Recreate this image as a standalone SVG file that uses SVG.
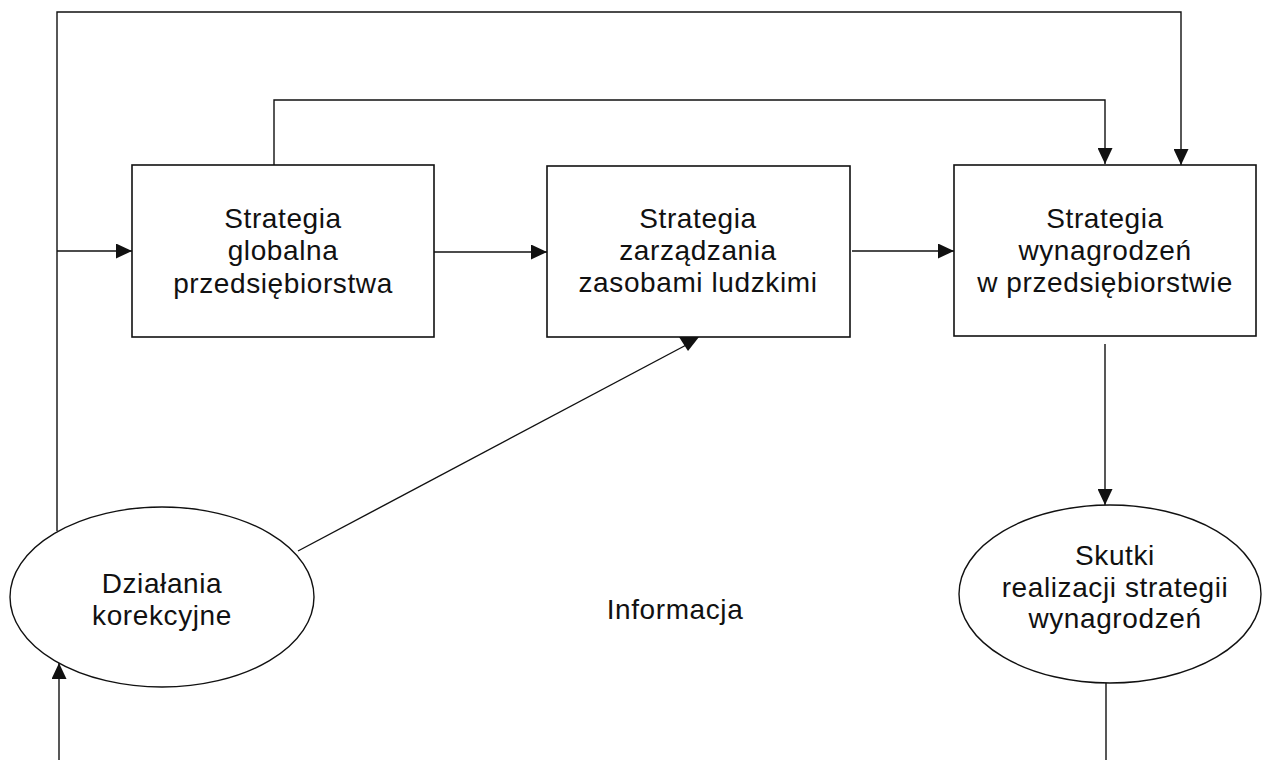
<svg xmlns="http://www.w3.org/2000/svg" width="1263" height="760" viewBox="0 0 1263 760">
<style>
.box{fill:#fff;stroke:#111;stroke-width:1.6}
.ell{fill:#fff;stroke:#111;stroke-width:1.4}
.ln{fill:none;stroke:#111;stroke-width:1.4}
.t{font-family:"Liberation Sans",Arial,Helvetica,sans-serif;font-size:28px;letter-spacing:0.6px;fill:#111;text-anchor:middle}
</style>
<defs>
<marker id="ah" markerUnits="userSpaceOnUse" markerWidth="16" markerHeight="15" refX="16" refY="7.5" orient="auto">
<path d="M0,0 L16,7.5 L0,15 z" fill="#111"/>
</marker>
</defs>
<rect width="1263" height="760" fill="#fff"/>
<g id="connectors">
<path class="ln" d="M57,531 V12 H1181 V165" marker-end="url(#ah)"/>
<path class="ln" d="M274,165 V100 H1105 V164" marker-end="url(#ah)"/>
<path class="ln" d="M57,251 H132" marker-end="url(#ah)"/>
<path class="ln" d="M434,252 H547" marker-end="url(#ah)"/>
<path class="ln" d="M852,251 H954" marker-end="url(#ah)"/>
<path class="ln" d="M1105,344 V505" marker-end="url(#ah)"/>
<path class="ln" d="M1106,682 V760"/>
<path class="ln" d="M59,760 V663" marker-end="url(#ah)"/>
<path class="ln" d="M298,551 L690,343"/>
<polygon points="679,337 699,337 688,351" fill="#111"/>
</g>
<g id="box1">
<rect class="box" x="132" y="165" width="302" height="172"/>
<text class="t" x="283" y="228">Strategia</text>
<text class="t" x="283" y="260">globalna</text>
<text class="t" x="283" y="293">przedsiębiorstwa</text>
</g>
<g id="box2">
<rect class="box" x="547" y="166" width="303" height="171"/>
<text class="t" x="698" y="228">Strategia</text>
<text class="t" x="698" y="260">zarządzania</text>
<text class="t" x="698" y="292">zasobami ludzkimi</text>
</g>
<g id="box3">
<rect class="box" x="954" y="165" width="302" height="171"/>
<text class="t" x="1105" y="228">Strategia</text>
<text class="t" x="1105" y="260">wynagrodzeń</text>
<text class="t" x="1105" y="292">w przedsiębiorstwie</text>
</g>
<g id="ellipse1">
<ellipse class="ell" cx="162" cy="597" rx="152" ry="90"/>
<text class="t" x="162" y="593">Działania</text>
<text class="t" x="162" y="625">korekcyjne</text>
</g>
<g id="ellipse2">
<ellipse class="ell" cx="1110" cy="594" rx="151" ry="89"/>
<text class="t" x="1115" y="565">Skutki</text>
<text class="t" x="1115" y="597">realizacji strategii</text>
<text class="t" x="1115" y="628">wynagrodzeń</text>
</g>
<g id="label">
<text class="t" x="675" y="619">Informacja</text>
</g>
</svg>
